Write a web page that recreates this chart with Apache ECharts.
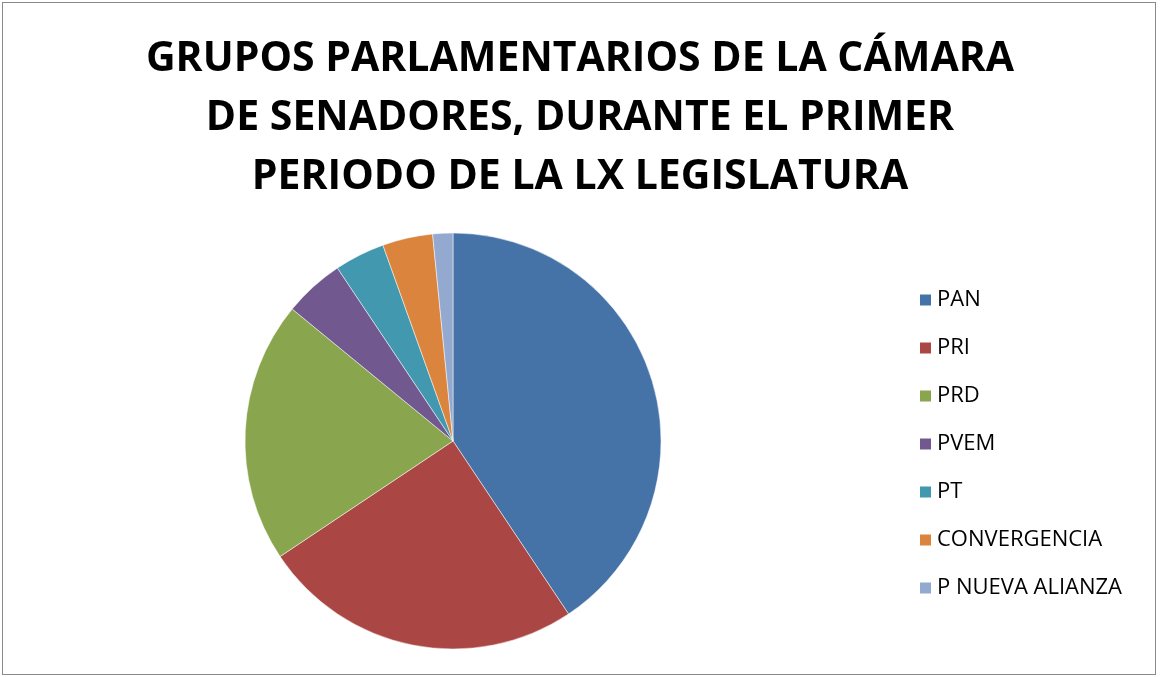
<!DOCTYPE html>
<html><head><meta charset="utf-8">
<script src="https://cdn.jsdelivr.net/npm/echarts@6/dist/echarts.min.js"></script>
<style>
html,body{margin:0;padding:0;background:#fff;}
#frame{position:absolute;left:2px;top:2px;width:1154px;height:673px;border:1.5px solid #8a8a8a;box-sizing:border-box;}
#c{position:absolute;left:0;top:0;width:1160px;height:677px;}
</style></head>
<body>
<div id="frame"></div>
<div id="c"></div>
<script>
const categories = ["PAN","PRI","PRD","PVEM","PT","CONVERGENCIA","P NUEVA ALIANZA"];
const values = [52,32,26,6,5,5,2];
const colors = ["#4572A7","#AA4643","#89A54E","#71588F","#4198AF","#DB843D","#93A9CF"];
const titleText = "GRUPOS PARLAMENTARIOS DE LA CÁMARA\nDE SENADORES, DURANTE EL PRIMER\nPERIODO DE LA LX LEGISLATURA";

const chart = echarts.init(document.getElementById('c'), null, {renderer:'canvas'});
chart.setOption({
  animation:false,
  backgroundColor:'transparent',
  color: colors,
  title:{
    text:titleText,
    left:'center', top:25,
    textStyle:{fontFamily:'"Open Sans",sans-serif',fontWeight:'bold',fontSize:41,lineHeight:59,color:'#000'}
  },
  legend:{
    orient:'vertical', left:913, top:284,
    itemWidth:13, itemHeight:13, itemGap:26, icon:'rect',
    textStyle:{fontFamily:'"Open Sans",sans-serif',fontSize:22,lineHeight:22,color:'#000',padding:[0,0,0,0]},
    data:categories
  },
  series:[{
    type:'pie',
    center:[453,441], radius:208,
    startAngle:90, clockwise:true,
    label:{show:false}, labelLine:{show:false},
    itemStyle:{borderColor:'#fff',borderWidth:0.5},
    emphasis:{disabled:true},
    data: categories.map((n,i)=>({name:n,value:values[i]}))
  }]
});
</script>
</body></html>
